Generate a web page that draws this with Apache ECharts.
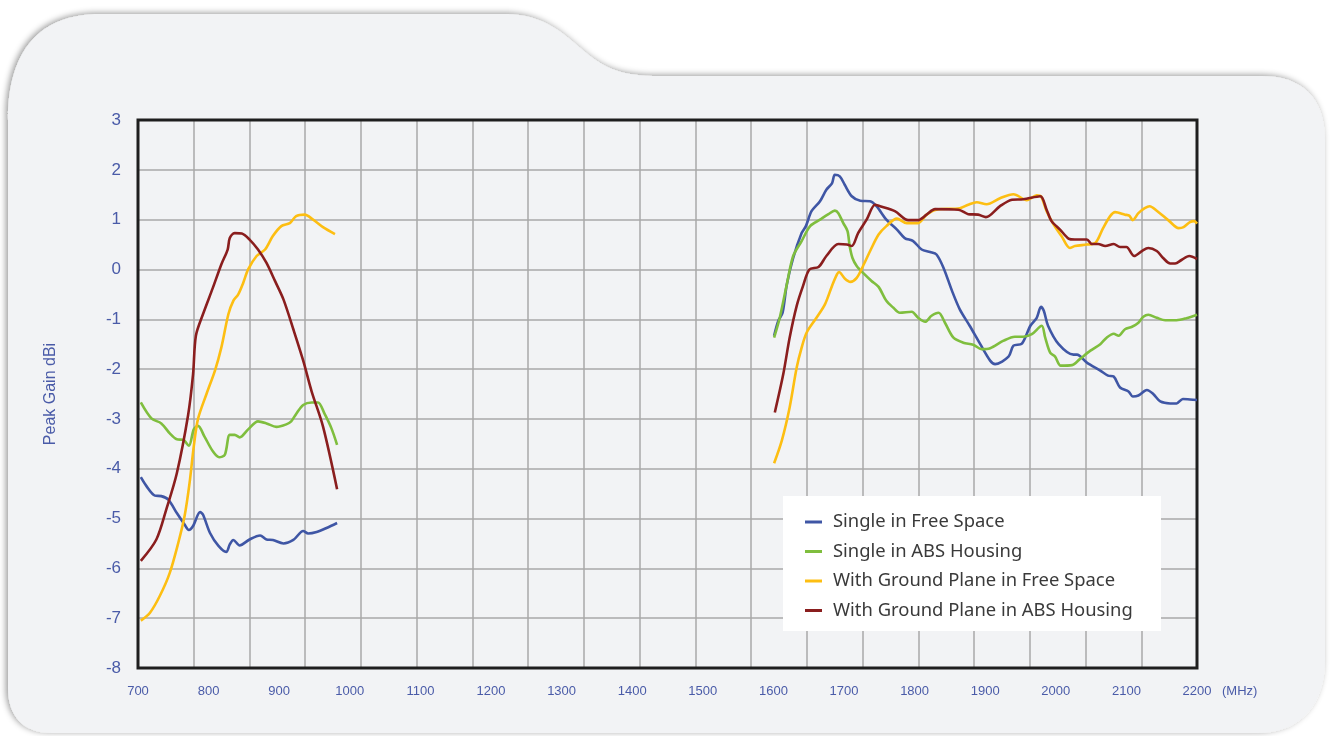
<!DOCTYPE html>
<html>
<head>
<meta charset="utf-8">
<title>Peak Gain</title>
<script src="https://cdn.jsdelivr.net/npm/echarts@6/dist/echarts.min.js"></script>
<style>
  html, body { margin: 0; padding: 0; background: #ffffff; }
  .wrap { position: relative; width: 1330px; height: 736px; }
  .wrap svg { position: absolute; left: 0; top: 0; }
  #chart { position: absolute; left: 0; top: 0; width: 1330px; height: 736px; }
</style>
</head>
<body>
<div class="wrap">
  <!-- 背景卡片 -->
  <svg width="1330" height="736">
    <defs>
      <filter id="sh" x="-5%" y="-5%" width="110%" height="110%">
        <feDropShadow dx="-2" dy="-1" stdDeviation="3" flood-color="#000" flood-opacity="0.4"/>
      </filter>
    </defs>
    <path filter="url(#sh)" fill="#f2f3f5"
      d="M8 120 C8 50 40 14 100 14 L505 14 C545 14 565 35 585 52 C605 68 620 76 660 76 L1262 76 C1302 76 1325 98 1325 140 L1325 660 C1325 705 1300 733 1258 733 L52 733 C22 733 8 715 8 688 Z"/>
  </svg>
  <div id="chart"></div>
</div>
<script>
// 图例名称
const seriesNames = [
  "Single in Free Space",
  "Single in ABS Housing",
  "With Ground Plane in Free Space",
  "With Ground Plane in ABS Housing"
];
const seriesColors = ["#3f56a5", "#7fbe3e", "#fdbe12", "#8a1e1e"];

// x 轴刻度 (MHz)
const freqMin = 700;
const freqMax = 2200;
const freqStep = 100;
// y 轴刻度 (dBi)
const gainMin = -8;
const gainMax = 3;

// 低频段 [MHz, dBi]
const singleFreeLow = [[704,-4.17],[712,-4.35],[724,-4.54],[733,-4.55],[743,-4.62],[755,-4.89],[766,-5.12],[772,-5.23],[778,-5.15],[788,-4.87],[792,-4.92],[802,-5.29],[814,-5.55],[825,-5.67],[830,-5.52],[835,-5.43],[844,-5.54],[858,-5.42],[873,-5.34],[882,-5.42],[891,-5.43],[906,-5.50],[920,-5.43],[934,-5.25],[941,-5.30],[953,-5.27],[967,-5.19],[982,-5.09]];
const singleAbsLow = [[704,-2.67],[719,-2.99],[733,-3.09],[745,-3.29],[755,-3.41],[764,-3.42],[772,-3.54],[779,-3.21],[785,-3.14],[794,-3.35],[806,-3.65],[815,-3.77],[823,-3.72],[830,-3.32],[837,-3.32],[844,-3.37],[856,-3.21],[870,-3.05],[882,-3.09],[896,-3.16],[910,-3.11],[917,-3.05],[924,-2.90],[934,-2.72],[946,-2.67],[955,-2.67],[964,-2.89],[974,-3.19],[982,-3.52]];
const groundFreeLow = [[704,-7.05],[717,-6.89],[731,-6.55],[745,-6.09],[757,-5.49],[766,-4.95],[773,-4.29],[779,-3.55],[785,-3.0],[797,-2.5],[809,-2.03],[818,-1.57],[828,-0.9],[835,-0.63],[842,-0.5],[849,-0.27],[856,0],[868,0.27],[880,0.4],[891,0.67],[903,0.87],[915,0.93],[924,1.07],[936,1.1],[948,1.0],[962,0.85],[979,0.71]];
const groundAbsLow = [[704,-5.85],[726,-5.42],[740,-4.82],[755,-4.09],[771,-2.92],[778,-2.1],[782,-1.33],[792,-0.9],[806,-0.37],[818,0.1],[827,0.4],[830,0.63],[837,0.73],[847,0.72],[858,0.6],[870,0.4],[882,0.13],[894,-0.23],[906,-0.6],[920,-1.2],[934,-1.83],[946,-2.45],[962,-3.15],[982,-4.41]];

// 高频段 [MHz, dBi]
const singleFreeHigh = [[1601,-1.33],[1607,-1.03],[1613,-0.87],[1619,-0.3],[1628,0.23],[1640,0.73],[1646,0.87],[1654,1.17],[1666,1.37],[1675,1.6],[1683,1.73],[1687,1.9],[1694,1.87],[1701,1.7],[1711,1.47],[1723,1.38],[1737,1.37],[1746,1.27],[1760,1.0],[1775,0.8],[1786,0.63],[1798,0.57],[1810,0.4],[1822,0.35],[1831,0.3],[1841,0.03],[1853,-0.43],[1864,-0.8],[1878,-1.13],[1893,-1.5],[1907,-1.83],[1914,-1.9],[1933,-1.75],[1940,-1.53],[1952,-1.49],[1964,-1.13],[1973,-0.97],[1979,-0.75],[1983,-0.83],[1989,-1.13],[2004,-1.5],[2025,-1.71],[2030,-1.71],[2044,-1.87],[2063,-2.03],[2074,-2.13],[2082,-2.15],[2091,-2.37],[2103,-2.45],[2109,-2.55],[2117,-2.53],[2129,-2.42],[2138,-2.5],[2148,-2.65],[2162,-2.69],[2171,-2.69],[2180,-2.6],[2190,-2.61],[2200,-2.62]];
const singleAbsHigh = [[1601,-1.37],[1609,-0.97],[1619,-0.3],[1628,0.27],[1640,0.57],[1652,0.87],[1666,1.0],[1678,1.11],[1687,1.18],[1692,1.13],[1699,0.93],[1705,0.77],[1708,0.47],[1712,0.23],[1718,0.07],[1727,-0.07],[1739,-0.23],[1749,-0.35],[1760,-0.63],[1770,-0.77],[1779,-0.87],[1796,-0.85],[1805,-0.97],[1815,-1.05],[1824,-0.93],[1834,-0.87],[1843,-1.07],[1855,-1.37],[1869,-1.47],[1883,-1.51],[1895,-1.6],[1907,-1.58],[1926,-1.43],[1942,-1.35],[1954,-1.35],[1966,-1.3],[1980,-1.13],[1985,-1.37],[1992,-1.67],[1999,-1.75],[2007,-1.93],[2023,-1.92],[2034,-1.8],[2049,-1.63],[2063,-1.5],[2072,-1.37],[2082,-1.29],[2089,-1.33],[2098,-1.2],[2108,-1.15],[2117,-1.07],[2124,-0.95],[2131,-0.91],[2143,-0.97],[2155,-1.02],[2171,-1.02],[2185,-0.98],[2200,-0.91]];
const groundFreeHigh = [[1601,-3.89],[1612,-3.43],[1623,-2.77],[1633,-1.97],[1640,-1.57],[1647,-1.27],[1661,-0.97],[1673,-0.7],[1683,-0.33],[1690,-0.1],[1693,-0.05],[1701,-0.18],[1709,-0.25],[1718,-0.17],[1727,0.07],[1737,0.37],[1749,0.7],[1760,0.87],[1775,1.02],[1789,0.93],[1805,0.93],[1817,1.1],[1831,1.2],[1864,1.23],[1876,1.3],[1888,1.35],[1902,1.31],[1921,1.43],[1940,1.51],[1959,1.39],[1973,1.49],[1979,1.47],[1987,1.17],[1997,0.9],[2008,0.67],[2020,0.43],[2027,0.47],[2044,0.5],[2056,0.53],[2067,0.83],[2077,1.07],[2084,1.15],[2098,1.1],[2104,1.08],[2109,0.99],[2117,1.13],[2126,1.23],[2133,1.27],[2143,1.18],[2160,0.98],[2174,0.83],[2181,0.85],[2190,0.95],[2196,0.97],[2200,0.92]];
const groundAbsHigh = [[1602,-2.87],[1614,-2.1],[1623,-1.37],[1633,-0.73],[1642,-0.33],[1651,0],[1664,0.05],[1675,0.27],[1692,0.51],[1704,0.5],[1711,0.47],[1720,0.73],[1732,1.0],[1744,1.3],[1751,1.27],[1772,1.17],[1791,0.99],[1805,0.99],[1817,1.1],[1829,1.21],[1862,1.2],[1876,1.11],[1890,1.1],[1901,1.05],[1921,1.27],[1938,1.4],[1954,1.41],[1978,1.47],[1987,1.2],[1994,0.97],[2006,0.8],[2018,0.62],[2027,0.6],[2044,0.6],[2051,0.51],[2060,0.51],[2070,0.47],[2082,0.51],[2091,0.45],[2100,0.45],[2111,0.27],[2122,0.37],[2131,0.43],[2143,0.37],[2152,0.23],[2162,0.12],[2169,0.12],[2178,0.19],[2189,0.27],[2200,0.21]];

const lowBands = [singleFreeLow, singleAbsLow, groundFreeLow, groundAbsLow];
const highBands = [singleFreeHigh, singleAbsHigh, groundFreeHigh, groundAbsHigh];

const labelBlue = "#4a5ba8";

const series = seriesNames.map((name, i) => ({
  name: name,
  type: "line",
  smooth: 0.3,
  showSymbol: false,
  connectNulls: false,
  xAxisIndex: 0,
  yAxisIndex: 0,
  lineStyle: { color: seriesColors[i], width: 2.6 },
  itemStyle: { color: seriesColors[i] },
  data: lowBands[i].concat([[1300, null]], highBands[i]),
  z: 5
}));

const option = {
  animation: false,
  textStyle: { fontFamily: "Liberation Sans, Arial, sans-serif" },
  graphic: [
    {
      type: "rect",
      z: 3,
      shape: { x: 783, y: 496, width: 378, height: 135 },
      style: { fill: "#ffffff" }
    },
    {
      type: "text",
      z: 6,
      left: 1222,
      top: 685,
      style: {
        text: "(MHz)",
        fill: labelBlue,
        font: "13px 'Liberation Sans', Arial, sans-serif"
      }
    }
  ],
  grid: {
    left: 138,
    right: 133,
    top: 120,
    bottom: 68,
    show: true,
    borderColor: "#1e1e1e",
    borderWidth: 3,
    backgroundColor: "transparent",
    z: 4
  },
  legend: {
    orient: "vertical",
    left: 783,
    top: 497,
    padding: [15, 20, 12, 22],
    itemGap: 9.5,
    itemWidth: 17,
    itemHeight: 3,
    icon: "rect",
    selectedMode: false,
    data: seriesNames,
    textStyle: {
      color: "#3a3a3a",
      fontSize: 18.4,
      lineHeight: 20,
      fontFamily: "Noto Sans",
      padding: [0, 0, 0, 6]
    }
  },
  xAxis: [
    {
      type: "value",
      min: freqMin,
      max: freqMax,
      interval: freqStep,
      position: "bottom",
      axisLine: { show: false },
      axisTick: { show: false },
      splitLine: { show: false },
      axisLabel: {
        color: labelBlue,
        fontSize: 13,
        margin: 17,
        formatter: (v) => String(v)
      }
    },
    {
      // 装饰网格 (19 等分)
      type: "value",
      min: 0,
      max: 19,
      interval: 1,
      position: "bottom",
      axisLine: { show: false },
      axisTick: { show: false },
      axisLabel: { show: false },
      splitLine: { show: true, lineStyle: { color: "#a9a9a9", width: 1.5 } }
    }
  ],
  yAxis: {
    type: "value",
    min: gainMin,
    max: gainMax,
    interval: 1,
    name: "Peak Gain dBi",
    nameLocation: "middle",
    nameRotate: 90,
    nameGap: 79,
    nameTextStyle: { color: labelBlue, fontSize: 16 },
    axisLine: { show: false },
    axisTick: { show: false },
    axisLabel: { color: labelBlue, fontSize: 17, margin: 17 },
    splitLine: { show: true, lineStyle: { color: "#a9a9a9", width: 1.5 } }
  },
  series: series
};

const chartObj = echarts.init(document.getElementById("chart"));
chartObj.setOption(option);
window.onresize = chartObj.resize;
</script>
</body>
</html>
